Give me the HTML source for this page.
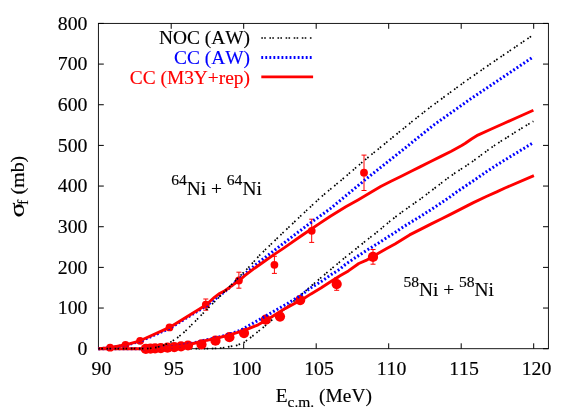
<!DOCTYPE html>
<html><head><meta charset="utf-8"><title>Fusion cross sections</title>
<style>
html,body{margin:0;padding:0;background:#fff;}
body{width:581px;height:407px;overflow:hidden;position:relative;font-family:"Liberation Serif",serif;}
svg text{stroke-width:0.15px;stroke-linejoin:round;font-kerning:none;}
svg text{stroke:#000;} svg text[fill="#00f"]{stroke:#00f;} svg text[fill="#f00"]{stroke:#f00;}
</style></head><body>
<svg width="581" height="407" viewBox="0 0 581 407" style="position:absolute;left:0;top:0;will-change:transform;transform:translateZ(0)">
<rect x="0" y="0" width="581" height="407" fill="#fff"/>
<rect x="98.4" y="23.4" width="450.0" height="325.3" fill="none" stroke="#000" stroke-width="0.9"/>
<path d="M98.4,348.70 h5.4 M548.4,348.70 h-5.4 M98.4,308.04 h5.4 M548.4,308.04 h-5.4 M98.4,267.38 h5.4 M548.4,267.38 h-5.4 M98.4,226.72 h5.4 M548.4,226.72 h-5.4 M98.4,186.06 h5.4 M548.4,186.06 h-5.4 M98.4,145.40 h5.4 M548.4,145.40 h-5.4 M98.4,104.74 h5.4 M548.4,104.74 h-5.4 M98.4,64.08 h5.4 M548.4,64.08 h-5.4 M98.4,23.42 h5.4 M548.4,23.42 h-5.4 M171.20,348.7 v-5.4 M171.20,23.4 v5.4 M243.70,348.7 v-5.4 M243.70,23.4 v5.4 M316.20,348.7 v-5.4 M316.20,23.4 v5.4 M388.70,348.7 v-5.4 M388.70,23.4 v5.4 M461.20,348.7 v-5.4 M461.20,23.4 v5.4 M533.70,348.7 v-5.4 M533.70,23.4 v5.4" stroke="#000" stroke-width="1" fill="none"/>
<path d="M98.4,348.7 L205.0,348.7 L210.8,348.6 L221.2,348.0 L229.4,346.7 L236.7,345.4 L243.8,342.6 L252.6,336.0 L263.7,327.0 L273.6,318.6 L290.3,304.2 L311.0,286.1 L321.3,277.4 L331.7,268.6 L336.8,264.4 L345.3,257.3 L355.7,249.0 L366.0,240.7 L376.3,232.7 L390.0,221.2 L400.3,213.2 L410.7,205.8 L421.0,198.6 L427.2,193.9 L445.0,180.2 L455.3,172.8 L465.7,166.1 L473.4,160.9 L490.0,148.5 L500.3,141.6 L509.1,136.2 L516.6,131.2 L533.4,121.3" stroke="#000" stroke-width="1.7" fill="none" stroke-dasharray="1.6 1.3 1.6 3.6"/>
<circle cx="145.8" cy="348.9" r="5.1" fill="#f00"/>
<circle cx="150.5" cy="348.7" r="5.1" fill="#f00"/>
<circle cx="155.1" cy="348.4" r="5.1" fill="#f00"/>
<circle cx="160.8" cy="348.1" r="5.1" fill="#f00"/>
<circle cx="167.5" cy="347.7" r="5.1" fill="#f00"/>
<circle cx="174.3" cy="347.1" r="5.1" fill="#f00"/>
<circle cx="181.0" cy="346.3" r="5.1" fill="#f00"/>
<circle cx="188.0" cy="345.5" r="5.1" fill="#f00"/>
<circle cx="201.5" cy="344.4" r="5.1" fill="#f00"/>
<circle cx="215.5" cy="340.7" r="5.1" fill="#f00"/>
<circle cx="229.4" cy="337.2" r="5.1" fill="#f00"/>
<circle cx="244.0" cy="333.1" r="5.1" fill="#f00"/>
<circle cx="265.8" cy="319.7" r="5.1" fill="#f00"/>
<circle cx="280.0" cy="316.6" r="5.1" fill="#f00"/>
<circle cx="300.2" cy="300.1" r="5.1" fill="#f00"/>
<path d="M336.7,277.8 L336.7,290.3 M334.2,277.8 L339.2,277.8 M334.2,290.3 L339.2,290.3" stroke="#f00" stroke-width="1" fill="none"/>
<circle cx="336.7" cy="284.1" r="5.1" fill="#f00"/>
<path d="M373.0,249.5 L373.0,264.2 M370.5,249.5 L375.5,249.5 M370.5,264.2 L375.5,264.2" stroke="#f00" stroke-width="1" fill="none"/>
<circle cx="373.0" cy="256.9" r="5.1" fill="#f00"/>
<path d="M98.4,348.7 L145.0,348.7 L160.0,348.0 L175.0,346.6 L185.0,345.0 L195.3,342.5 L201.5,340.9 L215.5,338.0 L229.6,334.2 L241.6,329.8 L252.6,323.5 L263.7,317.2 L274.7,310.8 L287.2,303.7 L300.7,295.4 L311.0,287.7 L321.3,281.5 L331.7,274.3 L340.0,269.1 L345.3,264.5 L355.7,257.5 L366.0,250.7 L376.3,244.4 L386.7,237.7 L395.0,232.5 L400.3,228.8 L410.7,222.3 L421.0,216.1 L431.3,209.4 L441.7,202.5 L450.0,196.9 L455.3,192.9 L465.7,185.9 L476.0,179.0 L486.3,171.8 L496.7,165.1 L505.0,159.9 L532.9,142.9" stroke="#00f" stroke-width="3.0" fill="none" stroke-dasharray="1.85 2.19"/>
<path d="M98.4,348.7 L145.0,348.7 L160.0,348.2 L175.0,346.8 L185.0,345.4 L195.3,343.0 L201.5,341.4 L215.5,338.5 L229.6,334.8 L244.4,330.3 L258.1,324.8 L269.2,318.4 L285.0,308.6 L303.8,298.5 L311.0,293.9 L321.3,287.7 L331.7,281.0 L340.0,275.8 L348.4,270.9 L358.8,263.5 L366.0,260.4 L378.4,253.2 L386.7,248.5 L395.0,243.9 L409.6,234.9 L421.0,229.1 L431.3,223.9 L441.7,218.7 L450.0,214.6 L472.9,202.9 L486.3,196.5 L496.7,191.9 L505.0,188.0 L533.9,175.7" stroke="#f00" stroke-width="2.9" fill="none" stroke-linejoin="round"/>
<circle cx="110.1" cy="347.7" r="3.9" fill="#f00"/>
<circle cx="125.5" cy="344.8" r="3.9" fill="#f00"/>
<circle cx="140.1" cy="340.8" r="3.9" fill="#f00"/>
<circle cx="169.5" cy="327.4" r="3.9" fill="#f00"/>
<path d="M205.8,299.0 L205.8,310.2 M203.3,299.0 L208.3,299.0 M203.3,310.2 L208.3,310.2" stroke="#f00" stroke-width="1" fill="none"/>
<circle cx="205.8" cy="304.7" r="3.9" fill="#f00"/>
<path d="M238.9,272.2 L238.9,288.2 M236.4,272.2 L241.4,272.2 M236.4,288.2 L241.4,288.2" stroke="#f00" stroke-width="1" fill="none"/>
<circle cx="238.9" cy="280.5" r="3.9" fill="#f00"/>
<path d="M274.4,256.3 L274.4,273.4 M271.9,256.3 L276.9,256.3 M271.9,273.4 L276.9,273.4" stroke="#f00" stroke-width="1" fill="none"/>
<circle cx="274.4" cy="264.8" r="3.9" fill="#f00"/>
<path d="M311.7,219.2 L311.7,242.4 M309.2,219.2 L314.2,219.2 M309.2,242.4 L314.2,242.4" stroke="#f00" stroke-width="1" fill="none"/>
<circle cx="311.7" cy="230.8" r="3.9" fill="#f00"/>
<path d="M364.0,155.1 L364.0,190.5 M361.5,155.1 L366.5,155.1 M361.5,190.5 L366.5,190.5" stroke="#f00" stroke-width="1" fill="none"/>
<circle cx="364.0" cy="172.7" r="3.9" fill="#f00"/>
<path d="M98.4,348.7 L110.0,347.8 L125.5,345.2 L140.0,341.4 L169.5,328.4 L206.0,306.0 L225.0,291.5 L238.9,279.3 L244.8,274.0 L254.6,265.6 L264.5,257.9 L274.3,250.4 L280.0,246.0 L289.8,238.5 L299.6,231.1 L309.5,223.6 L319.3,216.6 L330.0,208.9 L365.0,179.9 L402.6,150.0 L433.6,125.1 L470.0,99.3 L533.5,56.7" stroke="#00f" stroke-width="3.0" fill="none" stroke-dasharray="1.85 2.19"/>
<path d="M98.4,348.7 L110.0,347.6 L125.5,344.8 L140.0,340.8 L169.5,327.4 L206.0,305.0 L214.4,297.3 L219.6,293.5 L224.8,290.7 L229.9,287.2 L238.9,280.6 L244.8,275.7 L254.6,268.2 L264.5,261.2 L274.3,254.4 L283.0,248.6 L289.8,243.9 L299.6,237.0 L309.5,230.2 L319.3,223.6 L330.0,216.5 L345.8,206.8 L358.0,199.9 L369.3,193.2 L380.7,186.5 L391.0,181.3 L401.3,176.2 L411.7,171.0 L420.0,166.9 L430.7,161.5 L441.0,156.4 L451.3,151.2 L461.7,145.5 L465.0,143.5 L471.5,139.0 L477.9,135.1 L490.8,129.3 L503.7,123.5 L516.6,117.7 L533.4,110.2" stroke="#f00" stroke-width="2.9" fill="none" stroke-linejoin="round"/>
<path d="M98.4,348.7 L145.0,348.7 L150.0,348.4 L155.5,347.6 L160.8,346.3 L166.0,344.3 L171.2,341.7 L176.3,338.6 L181.5,334.5 L186.7,329.8 L191.8,324.6 L195.0,321.5 L205.8,310.5 L223.0,293.2 L238.5,277.6 L248.8,267.2 L260.0,254.8 L282.0,233.6 L306.5,210.5 L320.0,197.9 L330.0,189.5 L340.0,181.3 L364.1,160.6 L414.0,120.0 L430.0,107.4 L440.0,100.0 L450.0,92.6 L466.0,80.9 L493.5,61.8 L533.5,34.7" stroke="#000" stroke-width="1.7" fill="none" stroke-dasharray="1.6 1.3 1.6 3.6"/>
<path d="M261.3,38.0 L312.3,38.0" stroke="#000" stroke-width="1.7" fill="none" stroke-dasharray="1.6 1.3 1.6 3.6"/>
<path d="M261.3,57.5 L312.3,57.5" stroke="#00f" stroke-width="3.0" fill="none" stroke-dasharray="1.85 2.19"/>
<path d="M261.3,76.9 L313.1,76.9" stroke="#f00" stroke-width="2.9" fill="none" stroke-linejoin="round"/>
<text x="87.5" y="355.0" text-anchor="end" font-family="Liberation Serif, serif" font-size="19.8">0</text>
<text x="87.5" y="314.3" text-anchor="end" font-family="Liberation Serif, serif" font-size="19.8">100</text>
<text x="87.5" y="273.7" text-anchor="end" font-family="Liberation Serif, serif" font-size="19.8">200</text>
<text x="87.5" y="233.0" text-anchor="end" font-family="Liberation Serif, serif" font-size="19.8">300</text>
<text x="87.5" y="192.4" text-anchor="end" font-family="Liberation Serif, serif" font-size="19.8">400</text>
<text x="87.5" y="151.7" text-anchor="end" font-family="Liberation Serif, serif" font-size="19.8">500</text>
<text x="87.5" y="111.0" text-anchor="end" font-family="Liberation Serif, serif" font-size="19.8">600</text>
<text x="87.5" y="70.4" text-anchor="end" font-family="Liberation Serif, serif" font-size="19.8">700</text>
<text x="87.5" y="29.7" text-anchor="end" font-family="Liberation Serif, serif" font-size="19.8">800</text>
<text x="101.5" y="374.5" text-anchor="middle" font-family="Liberation Serif, serif" font-size="19.8">90</text>
<text x="174.0" y="374.5" text-anchor="middle" font-family="Liberation Serif, serif" font-size="19.8">95</text>
<text x="246.5" y="374.5" text-anchor="middle" font-family="Liberation Serif, serif" font-size="19.8">100</text>
<text x="319.0" y="374.5" text-anchor="middle" font-family="Liberation Serif, serif" font-size="19.8">105</text>
<text x="391.5" y="374.5" text-anchor="middle" font-family="Liberation Serif, serif" font-size="19.8">110</text>
<text x="464.0" y="374.5" text-anchor="middle" font-family="Liberation Serif, serif" font-size="19.8">115</text>
<text x="536.5" y="374.5" text-anchor="middle" font-family="Liberation Serif, serif" font-size="19.8">120</text>
<text x="250" y="44.1" text-anchor="end" font-family="Liberation Serif, serif" font-size="19.4">NOC (AW)</text>
<text x="250" y="64" text-anchor="end" fill="#00f" font-family="Liberation Serif, serif" font-size="19.4">CC (AW)</text>
<text x="250" y="83.8" text-anchor="end" fill="#f00" font-family="Liberation Serif, serif" font-size="19.4">CC (M3Y+rep)</text>
<text x="171.2" y="194.5" font-family="Liberation Serif, serif" font-size="19.4"><tspan dy="-9.3" font-size="15.6">64</tspan><tspan dy="9.3">Ni + </tspan><tspan dy="-9.3" font-size="15.6">64</tspan><tspan dy="9.3">Ni</tspan></text>
<text x="403.4" y="296.3" font-family="Liberation Serif, serif" font-size="19.4"><tspan dy="-9.3" font-size="15.6">58</tspan><tspan dy="9.3">Ni + </tspan><tspan dy="-9.3" font-size="15.6">58</tspan><tspan dy="9.3">Ni</tspan></text>
<text x="275.7" y="401.7" font-family="Liberation Serif, serif" font-size="19.4">E<tspan dy="4.8" font-size="15.5">c.m.</tspan><tspan dy="-4.8"> (MeV)</tspan></text>
<g transform="translate(23.8,217.6) rotate(-90)" font-family="Liberation Serif, serif" font-size="19.8"><text transform="scale(1.42,1.06)" x="0" y="0">σ</text><text x="12.6" y="4.6" font-size="15.6">f</text><text x="23.35" y="0">(mb)</text></g>
</svg>
</body></html>
